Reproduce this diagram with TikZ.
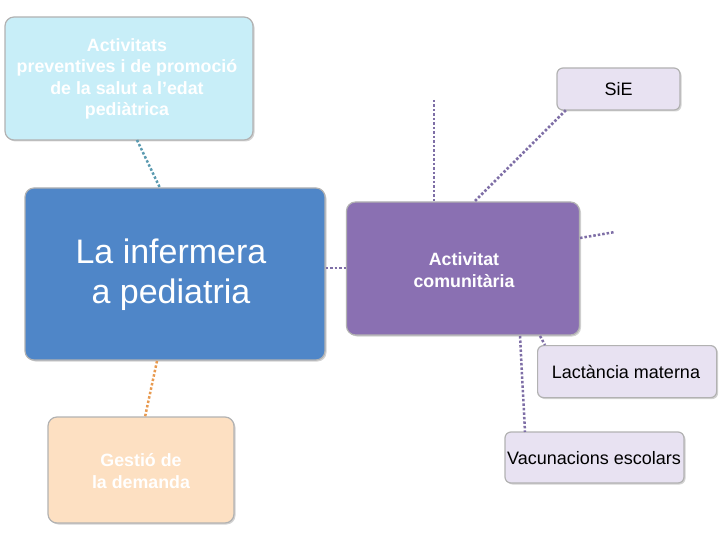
\documentclass[tikz,border=0pt]{standalone}
\usepackage{fontspec}
\setmainfont{Liberation Sans}
\usetikzlibrary{shadows}
\definecolor{cyanbox}{HTML}{C8EEF8}
\definecolor{bluebox}{HTML}{4F86C8}
\definecolor{purplebox}{HTML}{8A70B2}
\definecolor{lavbox}{HTML}{E8E2F2}
\definecolor{peachbox}{HTML}{FDE0C2}
\definecolor{dotpurple}{HTML}{7E6EA6}
\definecolor{dotteal}{HTML}{5A9AB0}
\definecolor{dotorange}{HTML}{E89A50}
\tikzset{
  box/.style={draw=gray!60, line width=1.2pt, rounded corners=9pt, align=center, inner sep=4pt, drop shadow={opacity=0.35, shadow xshift=1.5pt, shadow yshift=-1.5pt}},
  wtext/.style={text=white, font=\bfseries\fontsize{17.8}{21.5}\selectfont},
  btext/.style={text=black, font=\fontsize{18}{21}\selectfont},
  dots/.style={dotted, line width=2.5pt, dotpurple}
}
\begin{document}
\begin{tikzpicture}[x=1pt,y=-1pt]
\useasboundingbox (0,0) rectangle (720,540);
\node[box, fill=cyanbox, minimum width=248, minimum height=123] (prev) at (129,78.5) {};
\node[wtext, align=center] at (127,79) {Activitats\\preventives i de promoció\\de la salut a l'edat\\pediàtrica};
\node[box, fill=bluebox, minimum width=300, minimum height=172] (inf) at (175,274) {};
\node[text=white, align=center, font=\fontsize{34}{40}\selectfont] at (171,275) {La infermera\\a pediatria};
\node[box, fill=purplebox, minimum width=233, minimum height=133] (act) at (463,268.5) {};
\node[wtext, align=center] at (464,270) {Activitat\\comunitària};
\node[box, fill=lavbox, btext, minimum width=123, minimum height=42, rounded corners=6pt] (sie) at (618.5,89) {SiE};
\node[box, fill=lavbox, minimum width=179, minimum height=52, rounded corners=6pt, anchor=north west] (lac) at (537,345) {};
\node[btext] at (626,372) {Lactància materna};
\node[box, fill=lavbox, minimum width=179, minimum height=51, rounded corners=6pt] (vac) at (594.5,457.5) {};
\node[btext] at (594,458) {Vacunacions escolars};
\node[box, fill=peachbox, minimum width=186, minimum height=106] (ges) at (141,470) {};
\node[wtext, align=center] at (141,471) {Gestió de\\la demanda};
\coordinate (f1) at (434,100);
\coordinate (f1b) at (434,202);
\coordinate (f2) at (615,232);
\draw[dots, dotteal] (137,140) -- (160,188);
\draw[dots, dotorange] (157,361) -- (145,417);
\draw[dots] (inf.east) ++(0,-6) -- (347,268);
\draw[dots] (f1) -- (f1b);
\draw[dots] (475,201) -- (566,110);
\draw[dots] (580,238) -- (f2);
\draw[dots] (520,336) -- (525,432);
\draw[dots] (540,336) -- (545,345);
\end{tikzpicture}
\end{document}
